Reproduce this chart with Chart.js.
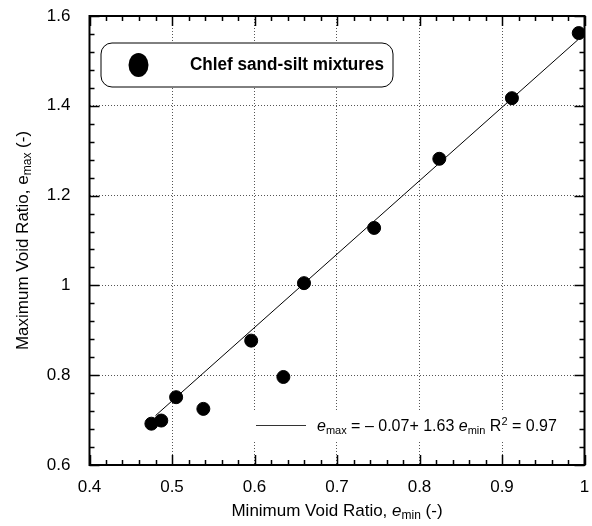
<!DOCTYPE html>
<html>
<head>
<meta charset="utf-8">
<script src="https://cdn.jsdelivr.net/npm/chart.js@4"></script>
<style>
  body { margin: 0; background: #fff; }
  #wrap { width: 592px; height: 526px; }
</style>
</head>
<body>
<div id="wrap"><canvas id="chart"></canvas></div>
<script>
const eMin = [0.475, 0.487, 0.505, 0.538, 0.596, 0.635, 0.66, 0.745, 0.824, 0.912, 0.993];
const eMax = [0.692, 0.699, 0.751, 0.725, 0.877, 0.796, 1.005, 1.128, 1.282, 1.417, 1.562];
const fitX = [0.48, 0.992];
const fitY = [0.71, 1.547];
const xTicks = [0.4, 0.5, 0.6, 0.7, 0.8, 0.9, 1.0];
const xTickLabels = ["0.4", "0.5", "0.6", "0.7", "0.8", "0.9", "1"];
const yTicks = [0.6, 0.8, 1.0, 1.2, 1.4, 1.6];
const yTickLabels = ["0.6", "0.8", "1", "1.2", "1.4", "1.6"];
const seriesName = "Chlef sand-silt mixtures";
const fitName = "e_max = \u2013 0.07+ 1.63 e_min R^2 = 0.97";

const FONT = "'Liberation Sans', Arial, sans-serif";

// draws "e_max" style text: _ = subscript run, ^ = superscript run, lone e = italic
const drawRich = (ctx, text, x, y, size, italicE) => {
  const parts = text.split(/(e_\w+|R\^\d)/).filter(p => p);
  ctx.textBaseline = "alphabetic";
  ctx.textAlign = "left";
  for (const p of parts) {
    if (p.startsWith("e_")) {
      ctx.font = `${italicE ? "italic " : ""}${size}px ${FONT}`;
      ctx.fillText("e", x, y);
      x += ctx.measureText("e").width;
      ctx.font = `${Math.round(size * 0.68)}px ${FONT}`;
      ctx.fillText(p.slice(2), x, y + size * 0.18);
      x += ctx.measureText(p.slice(2)).width;
    } else if (p.startsWith("R^")) {
      ctx.font = `${size}px ${FONT}`;
      ctx.fillText("R", x, y);
      x += ctx.measureText("R").width;
      ctx.font = `${Math.round(size * 0.68)}px ${FONT}`;
      ctx.fillText(p.slice(2), x, y - size * 0.38);
      x += ctx.measureText(p.slice(2)).width;
    } else {
      ctx.font = `${size}px ${FONT}`;
      ctx.fillText(p, x, y);
      x += ctx.measureText(p).width;
    }
  }
  return x;
};

const richWidth = (ctx, text, size, italicE) => {
  ctx.save();
  ctx.globalAlpha = 0;
  const w = drawRich(ctx, text, 0, 0, size, italicE);
  ctx.restore();
  return w;
};

const boxes = {
  id: "boxes",
  beforeDatasetsDraw(chart) {
    const { ctx } = chart;
    ctx.save();
    // series legend, rounded box
    ctx.beginPath();
    ctx.roundRect(101, 43, 292, 44, 11);
    ctx.fillStyle = "#fff";
    ctx.fill();
    ctx.strokeStyle = "#000";
    ctx.lineWidth = 1;
    ctx.stroke();
    ctx.beginPath();
    ctx.ellipse(138.5, 65, 10, 12, 0, 0, Math.PI * 2);
    ctx.fillStyle = "#000";
    ctx.fill();
    ctx.font = `bold 18px 'Liberation Sans Narrow', 'Arial Narrow', ${FONT}`;
    ctx.textBaseline = "middle";
    const w = ctx.measureText(seriesName).width;
    ctx.save();
    ctx.translate(190, 65);
    ctx.scale(Math.min(1, 194 / w), 1);
    ctx.fillText(seriesName, 0, 0);
    ctx.restore();

    // fit legend
    ctx.fillStyle = "#fff";
    ctx.fillRect(248, 410, 324, 32);
    ctx.strokeStyle = "#333";
    ctx.beginPath();
    ctx.moveTo(256, 425.5);
    ctx.lineTo(306, 425.5);
    ctx.stroke();
    ctx.fillStyle = "#000";
    drawRich(ctx, fitName, 317, 431, 16, true);
    ctx.restore();
  },
};

const frame = {
  id: "frame",
  afterDraw(chart) {
    const { ctx, chartArea: a, scales: { x, y } } = chart;
    ctx.save();
    ctx.strokeStyle = "#000";
    ctx.lineWidth = 1.5;
    ctx.beginPath();
    for (let i = 0; i <= 30; i++) {
      const px = Math.round(x.getPixelForValue(0.4 + i * 0.02)) + 0.5;
      const len = i % 5 === 0 ? 10 : 5;
      ctx.moveTo(px, a.bottom); ctx.lineTo(px, a.bottom - len);
      ctx.moveTo(px, a.top); ctx.lineTo(px, a.top + len);
    }
    for (let i = 0; i <= 25; i++) {
      const py = Math.round(y.getPixelForValue(0.6 + i * 0.04)) + 0.5;
      const len = i % 5 === 0 ? 10 : 5;
      ctx.moveTo(a.left, py); ctx.lineTo(a.left + len, py);
      ctx.moveTo(a.right, py); ctx.lineTo(a.right - len, py);
    }
    ctx.stroke();
    ctx.lineWidth = 2;
    ctx.strokeRect(a.left, a.top, a.right - a.left, a.bottom - a.top);

    // axis titles
    ctx.fillStyle = "#000";
    const xt = "Minimum Void Ratio, e_min (-)";
    const wx = richWidth(ctx, xt, 17, true);
    drawRich(ctx, xt, (a.left + a.right) / 2 - wx / 2, 516, 17, true);
    const yt = "Maximum Void Ratio, e_max (-)";
    const wy = richWidth(ctx, yt, 17, false);
    ctx.translate(28, (a.top + a.bottom) / 2);
    ctx.rotate(-Math.PI / 2);
    drawRich(ctx, yt, -wy / 2, 0, 17, false);
    ctx.restore();
  },
};

const gridStyle = { color: "#555", lineWidth: 1, drawTicks: false };

new Chart(document.getElementById("chart"), {
  type: "scatter",
  data: {
    datasets: [
      {
        label: seriesName,
        data: eMin.map((v, i) => ({ x: v, y: eMax[i] })),
        backgroundColor: "#000",
        borderColor: "#000",
        pointRadius: 6.5,
        pointHoverRadius: 6.5,
      },
      {
        type: "line",
        label: fitName,
        data: fitX.map((v, i) => ({ x: v, y: fitY[i] })),
        borderColor: "#000",
        borderWidth: 1,
        pointRadius: 0,
        fill: false,
      },
    ],
  },
  options: {
    responsive: true,
    maintainAspectRatio: false,
    animation: false,
    layout: { padding: { top: 16, right: 4, left: 0, bottom: 0 } },
    plugins: { legend: { display: false }, tooltip: { enabled: false } },
    scales: {
      x: {
        type: "linear",
        min: 0.4,
        max: 1.0,
        afterBuildTicks: (s) => { s.ticks = xTicks.map(v => ({ value: v })); },
        afterFit: (s) => { s.height = 61; s.paddingLeft = 0; s.paddingRight = 0; },
        ticks: {
          callback: (v, i) => xTickLabels[i],
          color: "#000",
          font: { family: FONT, size: 17 },
          padding: 12,
          maxRotation: 0,
        },
        grid: { ...gridStyle },
        border: { display: false, dash: [1, 2] },
      },
      y: {
        type: "linear",
        min: 0.6,
        max: 1.6,
        afterBuildTicks: (s) => { s.ticks = yTicks.map(v => ({ value: v })); },
        afterFit: (s) => { s.width = 89.5; s.paddingTop = 0; s.paddingBottom = 0; },
        ticks: {
          callback: (v, i) => yTickLabels[i],
          color: "#000",
          font: { family: FONT, size: 17 },
          padding: 19,
        },
        grid: { ...gridStyle },
        border: { display: false, dash: [1, 2] },
      },
    },
  },
  plugins: [boxes, frame],
});
</script>
</body>
</html>
